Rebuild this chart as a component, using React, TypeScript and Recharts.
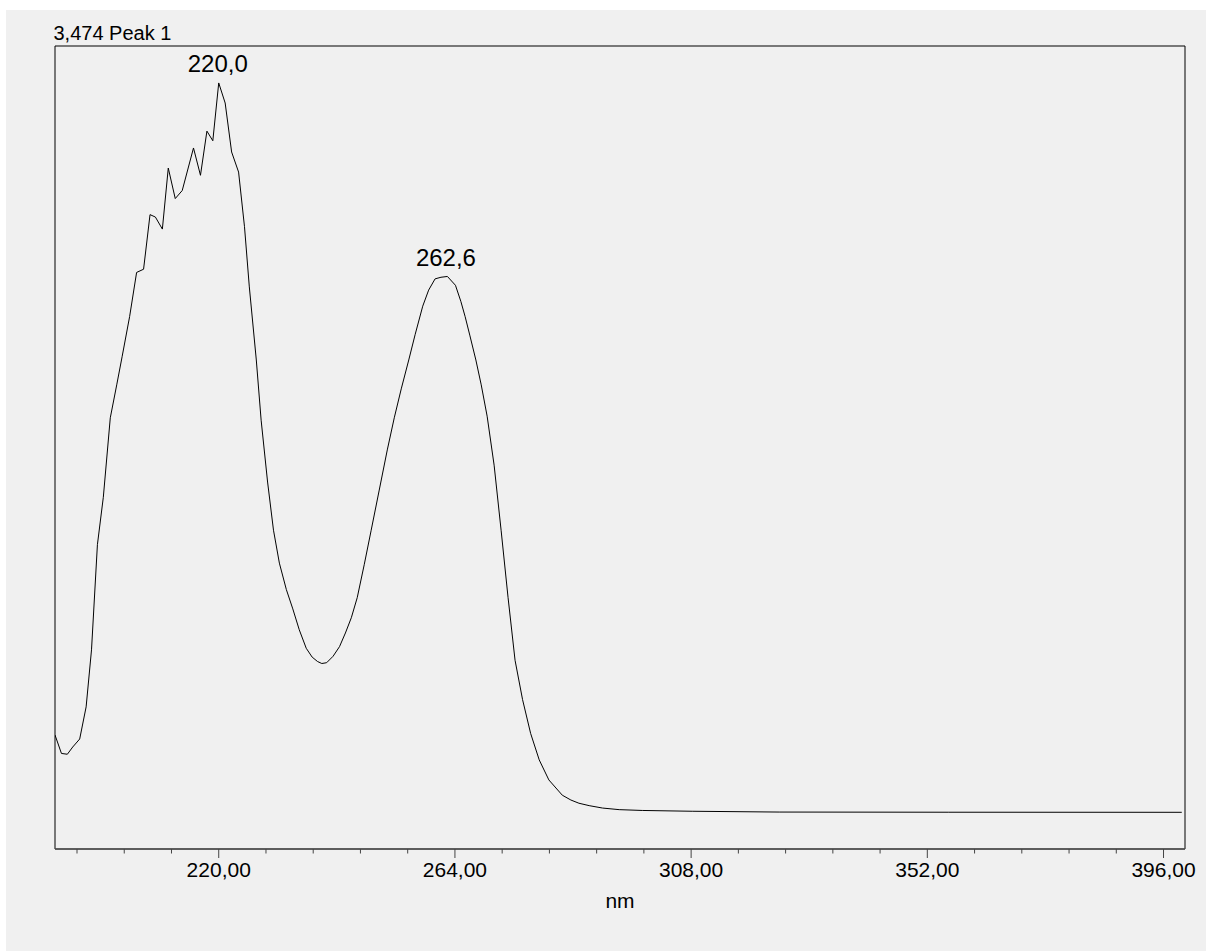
import React from 'react';
import { LineChart, Line, XAxis, YAxis, ReferenceArea, ReferenceDot, Customized } from 'recharts';

const WAVELENGTHS = [189.5,190.7,191.8,192.8,194.1,195.3,196.3,197.4,198.5,199.8,201.0,202.0,203.4,204.7,206.0,207.2,208.2,209.5,210.6,211.9,213.2,215.3,216.6,217.8,218.9,220.0,221.2,222.4,223.7,224.8,225.7,227.0,227.9,229.1,230.2,231.3,232.6,233.8,235.0,236.3,237.4,238.4,239.2,240.1,241.3,242.5,243.6,244.7,245.8,247.1,248.4,249.9,251.4,252.7,254.0,255.4,256.6,258.0,259.1,260.3,261.4,262.6,264.1,265.1,265.9,266.8,267.9,268.9,270.0,271.3,272.6,273.9,275.2,276.6,278.1,279.7,281.5,284.0,285.6,287.1,289.0,291.5,294.6,298.9,308.2,324.4,356.0,399.4];
const ABSORBANCE = [0.142,0.119,0.118,0.127,0.137,0.177,0.248,0.379,0.438,0.537,0.578,0.613,0.663,0.718,0.722,0.790,0.787,0.772,0.848,0.810,0.820,0.873,0.839,0.894,0.882,0.954,0.929,0.868,0.843,0.775,0.700,0.609,0.534,0.457,0.397,0.356,0.323,0.299,0.273,0.250,0.239,0.2335,0.231,0.232,0.240,0.252,0.269,0.288,0.313,0.354,0.397,0.447,0.497,0.537,0.573,0.609,0.641,0.676,0.696,0.710,0.712,0.713,0.702,0.682,0.663,0.639,0.609,0.578,0.539,0.478,0.397,0.313,0.235,0.186,0.144,0.111,0.086,0.067,0.061,0.057,0.054,0.051,0.049,0.048,0.047,0.046,0.0458,0.0457];

const ALL_TICKS = [193.6,202.4,211.2,220,228.8,237.6,246.4,255.2,264,272.8,281.6,290.4,299.2,308,316.8,325.6,334.4,343.2,352,360.8,369.6,378.4,387.2,396];
const MAJOR_TICKS = [220,264,308,352,396];
const MAJOR_LABELS = ['220,00','264,00','308,00','352,00','396,00'];

const PEAK_X = [220.0, 262.6];
const PEAK_Y = [0.954, 0.713];
const PEAK_LABELS = ['220,0','262,6'];

const TITLE = '3,474 Peak 1';
const X_TITLE = 'nm';
const X_DOMAIN = [189.5, 400];

const FONT = '"Liberation Sans", Arial, sans-serif';

const data = WAVELENGTHS.map((w, i) => ({ nm: w, au: ABSORBANCE[i] }));

const Tick = (props: any) => {
  const { x, y, payload } = props;
  const v = payload.value;
  const idx = MAJOR_TICKS.findIndex((m) => Math.abs(m - v) < 1e-6);
  const major = idx >= 0;
  return (
    <g>
      <line x1={x} x2={x} y1={y} y2={y + (major ? 9 : 4.5)} stroke="#444" strokeWidth={1} />
      {major && (
        <text x={x} y={y + 28} textAnchor="middle" fontSize={21} fontFamily={FONT} fill="#000">
          {MAJOR_LABELS[idx]}
        </text>
      )}
    </g>
  );
};

const PeakLabel = (label: string, dx: number) => (props: any) => {
  const { cx, cy } = props;
  return (
    <text x={cx + dx} y={cy - 10.5} textAnchor="middle" fontSize={24} fontFamily={FONT} fill="#000">
      {label}
    </text>
  );
};

export default function App() {
  return (
    <div style={{ position: 'absolute', left: 6, top: 10, width: 1200, height: 941, background: '#f0f0f0' }}>
      <LineChart
        width={1200}
        height={941}
        data={data}
        margin={{ top: 36, right: 21, bottom: 42, left: 49 }}
      >
        <ReferenceArea
          x1={X_DOMAIN[0]}
          x2={X_DOMAIN[1]}
          y1={0}
          y2={1}
          fill="none"
          stroke="#000"
          strokeWidth={1}
          ifOverflow="visible"
        />
        <XAxis
          dataKey="nm"
          type="number"
          domain={X_DOMAIN}
          allowDataOverflow
          ticks={ALL_TICKS}
          interval={0}
          tickLine={false}
          tickSize={0}
          tickMargin={0}
          tick={<Tick />}
          height={60}
          axisLine={{ stroke: '#555', strokeWidth: 1.5 }}
          label={{ value: X_TITLE, position: 'insideBottom', offset: 1, fontSize: 21, fontFamily: FONT, fill: '#000' }}
        />
        <YAxis hide type="number" domain={[0, 1]} allowDataOverflow />
        <Line
          type="linear"
          dataKey="au"
          stroke="#000"
          strokeWidth={1}
          dot={false}
          activeDot={false}
          isAnimationActive={false}
        />
        <ReferenceDot x={PEAK_X[0]} y={PEAK_Y[0]} r={0} shape={PeakLabel(PEAK_LABELS[0], -1)} />
        <ReferenceDot x={PEAK_X[1]} y={PEAK_Y[1]} r={0} shape={PeakLabel(PEAK_LABELS[1], -1.5)} />
        <Customized
          component={() => (
            <text x={47.5} y={30} fontSize={20} fontFamily={FONT} fill="#000">
              {TITLE}
            </text>
          )}
        />
      </LineChart>
    </div>
  );
}
